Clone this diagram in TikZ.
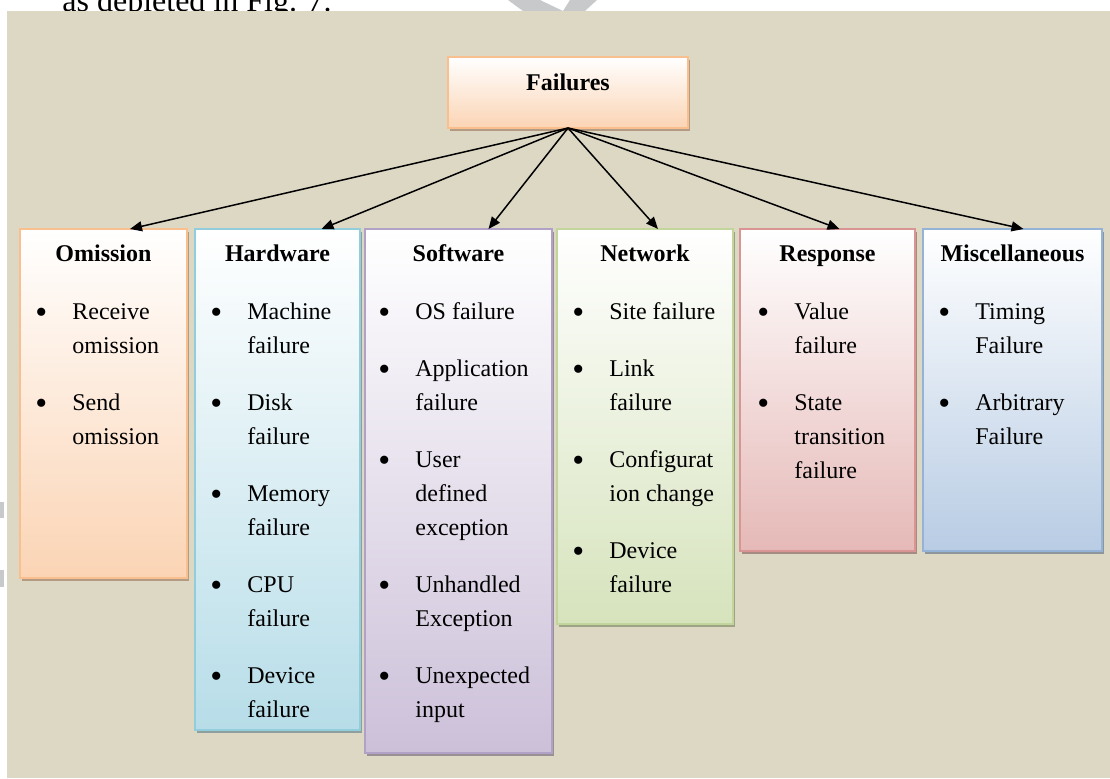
\documentclass[tikz,border=0pt]{standalone}
\usepackage{fontspec}
\setmainfont{Liberation Serif}
\usetikzlibrary{arrows.meta,positioning,shadows}

\definecolor{panel}{RGB}{221,216,196}
\definecolor{wmgray}{RGB}{200,201,203}
\definecolor{orgfill}{RGB}{251,212,180}
\definecolor{orgline}{RGB}{250,191,143}
\definecolor{aquafill}{RGB}{183,221,232}
\definecolor{aqualine}{RGB}{146,205,220}
\definecolor{purfill}{RGB}{204,192,217}
\definecolor{purline}{RGB}{178,161,199}
\definecolor{olvfill}{RGB}{214,227,188}
\definecolor{olvline}{RGB}{194,214,155}
\definecolor{redfill}{RGB}{229,185,183}
\definecolor{redline}{RGB}{217,149,148}
\definecolor{bluefill}{RGB}{184,204,228}
\definecolor{blueline}{RGB}{149,179,215}

% list bullet, a little heavier than \textbullet
\newcommand{\mybul}{\makebox[4pt]{\raisebox{-2pt}{\fontsize{17}{17}\selectfont\textbullet}}}

\begin{document}
\begin{tikzpicture}[
    x=0.5pt, y=-0.5pt,
    card/.style 2 args={
        draw=#2,
        line width=0.6pt,
        top color=white,
        bottom color=#1,
        drop shadow={shadow xshift=1pt,shadow yshift=-1.3pt,fill=#2!60!black,opacity=0.6},
        anchor=north west,
        inner sep=0pt,
        outer sep=0pt
    },
    head/.style={anchor=base,inner sep=0pt,font=\bfseries\fontsize{12}{14}\selectfont},
    items/.style={anchor=north west,inner sep=0pt,font=\fontsize{12}{17}\selectfont},
    link/.style={-{Triangle[length=6pt,width=5pt]},line width=0.75pt}
]
\useasboundingbox (0,0) rectangle (1110,778);

% line of running text above the figure
\node[anchor=base west,inner sep=0pt,font=\fontsize{16}{19}\selectfont] (caption) at (62,11.5) {as depleted in Fig. 7.};

% watermark fragments
\fill[wmgray] (508,0) -- (540,0) -- (563,11) -- (523,11) -- cycle;
\fill[wmgray] (570,0) -- (597,0) -- (585,11) -- (563,11) -- cycle;
\fill[wmgray] (0,502) rectangle (4,518);
\fill[wmgray] (0,570) rectangle (4,587);

\fill[panel] (7,11) rectangle (1110,778);

% root
\node[card={orgfill}{orgline},minimum width=120pt,minimum height=35.5pt] (fail) at (448,57) {};
\node[head] (fail-t) at ([yshift=-16.5pt]fail.north) {Failures};

% columns
\node[card={orgfill}{orgline},minimum width=83.5pt,minimum height=174.5pt] (omission) at (20,229) {};
\node[card={aquafill}{aqualine},minimum width=82.5pt,minimum height=250.5pt] (hardware) at ([xshift=4pt]omission.north east) {};
\node[card={purfill}{purline},minimum width=93.5pt,minimum height=262pt] (software) at ([xshift=2.5pt]hardware.north east) {};
\node[card={olvfill}{olvline},minimum width=88pt,minimum height=197.5pt] (network) at ([xshift=2.5pt]software.north east) {};
\node[card={redfill}{redline},minimum width=87.5pt,minimum height=161pt] (response) at ([xshift=3.5pt]network.north east) {};
\node[card={bluefill}{blueline},minimum width=89.5pt,minimum height=161pt] (misc) at ([xshift=4pt]response.north east) {};

\node[head] (omission-t) at ([yshift=-16pt]omission.north) {Omission};
\node[head] (hardware-t) at ([yshift=-16pt]hardware.north) {Hardware};
\node[head] (software-t) at ([yshift=-16pt]software.north) {Software};
\node[head] (network-t) at ([yshift=-16pt]network.north) {Network};
\node[head] (response-t) at ([yshift=-16pt]response.north) {Response};
\node[head] (misc-t) at ([yshift=-16pt]misc.north) {Miscellaneous};

\node[items] (omission-l) at ([xshift=8.5pt,yshift=-33pt]omission.north west) {%
\begin{tabular}{@{}p{17.5pt}@{}l@{}}
\mybul & Receive\\ & omission\\[11.5pt]
\mybul & Send\\ & omission
\end{tabular}};

\node[items] (hardware-l) at ([xshift=8.5pt,yshift=-33pt]hardware.north west) {%
\begin{tabular}{@{}p{17.5pt}@{}l@{}}
\mybul & Machine\\ & failure\\[11.5pt]
\mybul & Disk\\ & failure\\[11.5pt]
\mybul & Memory\\ & failure\\[11.5pt]
\mybul & CPU\\ & failure\\[11.5pt]
\mybul & Device\\ & failure
\end{tabular}};

\node[items] (software-l) at ([xshift=7.5pt,yshift=-33pt]software.north west) {%
\begin{tabular}{@{}p{17.5pt}@{}l@{}}
\mybul & OS failure\\[11.5pt]
\mybul & Application\\ & failure\\[11.5pt]
\mybul & User\\ & defined\\ & exception\\[11.5pt]
\mybul & Unhandled\\ & Exception\\[11.5pt]
\mybul & Unexpected\\ & input
\end{tabular}};

\node[items] (network-l) at ([xshift=8.5pt,yshift=-33pt]network.north west) {%
\begin{tabular}{@{}p{17.5pt}@{}l@{}}
\mybul & Site failure\\[11.5pt]
\mybul & Link\\ & failure\\[11.5pt]
\mybul & Configurat\\ & ion change\\[11.5pt]
\mybul & Device\\ & failure
\end{tabular}};

\node[items] (response-l) at ([xshift=9.5pt,yshift=-33pt]response.north west) {%
\begin{tabular}{@{}p{17.5pt}@{}l@{}}
\mybul & Value\\ & failure\\[11.5pt]
\mybul & State\\ & transition\\ & failure
\end{tabular}};

\node[items] (misc-l) at ([xshift=8.5pt,yshift=-33pt]misc.north west) {%
\begin{tabular}{@{}p{17.5pt}@{}l@{}}
\mybul & Timing\\ & Failure\\[11.5pt]
\mybul & Arbitrary\\ & Failure
\end{tabular}};

% arrows from the root
\draw[link] (fail.south) -- ([xshift=13.25pt]omission.north);
\draw[link] (fail.south) -- ([xshift=22pt]hardware.north);
\draw[link] (fail.south) -- ([xshift=15pt]software.north);
\draw[link] (fail.south) -- ([xshift=6.5pt]network.north);
\draw[link] (fail.south) -- ([xshift=6pt]response.north);
\draw[link] (fail.south) -- ([xshift=5.5pt]misc.north);
\end{tikzpicture}
\end{document}
